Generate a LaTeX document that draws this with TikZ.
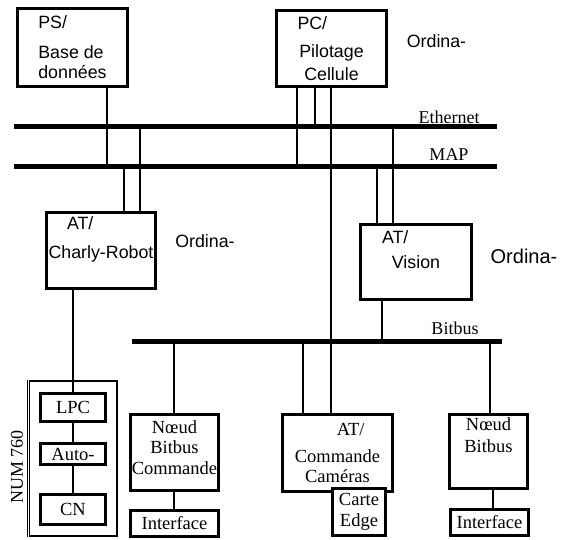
\documentclass[tikz,border=0pt]{standalone}
\usepackage{fontspec}
\setmainfont{Liberation Serif}
\setsansfont{Liberation Sans}
\begin{document}
\begin{tikzpicture}[
		x = 1pt, y = -1pt,
		bus/.style = {line width = 5pt},
		link/.style = {line width = 2pt},
		box/.style = {draw, rectangle, line width = 3pt, inner sep = 0pt, align = center},
		sansbox/.style = {box, font = \sffamily\fontsize{17.8}{20}\selectfont},
		serifbox/.style = {box, fill = white, font = \rmfamily\fontsize{18.5}{20.5}\selectfont},
		buslabel/.style = {inner sep = 0pt, font = \rmfamily\fontsize{18}{20}\selectfont},
		ordlabel/.style = {inner sep = 0pt, font = \sffamily\fontsize{17.8}{20}\selectfont}
	]
	\useasboundingbox (0,0) rectangle (562,540);

	% buses
	\coordinate (eth-w) at (14,127);
	\coordinate (eth-e) at (497,127);
	\coordinate (map-w) at (14,167);
	\coordinate (map-e) at (497,167);
	\coordinate (bit-w) at (132,341);
	\coordinate (bit-e) at (502,341);

	% stations
	\node (ps) [sansbox, align = left, minimum width = 110, minimum height = 78] at (72.5,47.5) {PS/\\[10pt]Base de\\données};
	\node (pc) [sansbox, minimum width = 110, minimum height = 76] at (331.5,48.5) {\makebox[68pt][l]{PC/}\\[8pt]Pilotage\\[3pt]Cellule};
	\node (charly) [sansbox, minimum width = 109, minimum height = 76] at (101,250.5) {\makebox[68pt][l]{AT/}\\[9pt]Charly-Robot\\[-1pt]\strut};
	\node (vision) [sansbox, minimum width = 111, minimum height = 75] at (416,262) {\makebox[68pt][l]{AT/}\\[5pt]Vision\\[-1pt]\strut};

	\node (ordpc) [ordlabel] at (436.5,41) {Ordina-};
	\node (ordcharly) [ordlabel] at (205,241) {Ordina-};
	\node (ordvision) [ordlabel, font = \sffamily\fontsize{20}{22}\selectfont] at (524,256) {Ordina-};

	% NUM 760
	\node (num) [draw, line width = 2pt, inner sep = 0pt, minimum width = 88, minimum height = 155] at (73,458.5) {};
	\draw[line width = 1.2pt, white] (num.north west) -- (num.south west);
	\draw[line width = 1.2pt] ([xshift = -0.4pt]num.north west) -- ([xshift = -0.4pt]num.south west);
	\node (numlbl) [buslabel, rotate = 90] at (17,467) {NUM 760};
	\node (lpc) [serifbox, minimum width = 65, minimum height = 28] at (73,407.5) {LPC};
	\node (auto) [serifbox, minimum width = 65, minimum height = 21] at (73,454) {Auto-};
	\node (cn) [serifbox, minimum width = 65, minimum height = 30] at (73,509.5) {CN};

	% bitbus nodes
	\node (noeudcmd) [serifbox, minimum width = 88, minimum height = 76] at (174.5,452.5) {Nœud\\Bitbus\\Commande\\[-16pt]\strut};
	\node (iface1) [serifbox, minimum width = 88, minimum height = 26] at (174.5,523.5) {Interface};
	\node (cmd) [serifbox, minimum width = 110, minimum height = 77] at (337.5,453) {\makebox[54pt][r]{AT/}\\[6pt]Commande\\Caméras};
	\node (edge) [serifbox, minimum width = 53, minimum height = 47] at (359,512) {Carte\\Edge};
	\node (noeud) [serifbox, minimum width = 78, minimum height = 74] at (488.5,451.5) {Nœud\\[1.5pt]Bitbus\\[7pt]\strut};
	\node (iface2) [serifbox, minimum width = 78, minimum height = 26] at (489.5,522.5) {Interface};

	% links
	\draw[link] (ps.south -| 107,0) -- (107,0 |- map-w);
	\draw[link] (140,0 |- eth-w) -- (charly.north -| 140,0);
	\draw[link] (124,0 |- map-w) -- (charly.north -| 124,0);
	\draw[link] (pc.south -| 297,0) -- (297,0 |- map-w);
	\draw[link] (pc.south -| 315,0) -- (315,0 |- eth-w);
	\draw[link] (pc.south -| 331,0) -- (cmd.north -| 331,0);
	\draw[link] (393,0 |- eth-w) -- (vision.north -| 393,0);
	\draw[link] (377,0 |- map-w) -- (vision.north -| 377,0);
	\draw[link] (vision.south -| 382,0) -- (382,0 |- bit-w);
	\draw[link] (charly.south -| lpc.north) -- (lpc.north);
	\draw[link] (lpc.south) -- (auto.north);
	\draw[link] (auto.south) -- (cn.north);
	\draw[link] (174,0 |- bit-w) -- (noeudcmd.north -| 174,0);
	\draw[link] (noeudcmd.south -| 174,0) -- (iface1.north -| 174,0);
	\draw[link] (303,0 |- bit-w) -- (cmd.north -| 303,0);
	\draw[link] (490,0 |- bit-w) -- (noeud.north -| 490,0);
	\draw[link] (noeud.south -| 493,0) -- (iface2.north -| 493,0);

	\draw[bus] (eth-w) -- (eth-e);
	\draw[bus] (map-w) -- (map-e);
	\draw[bus] (bit-w) -- (bit-e);
	\node (ethlbl) [buslabel] at (449,117) {Ethernet};
	\node (maplbl) [buslabel] at (449,155) {MAP};
	\node (bitlbl) [buslabel] at (455,328) {Bitbus};
\end{tikzpicture}
\end{document}
